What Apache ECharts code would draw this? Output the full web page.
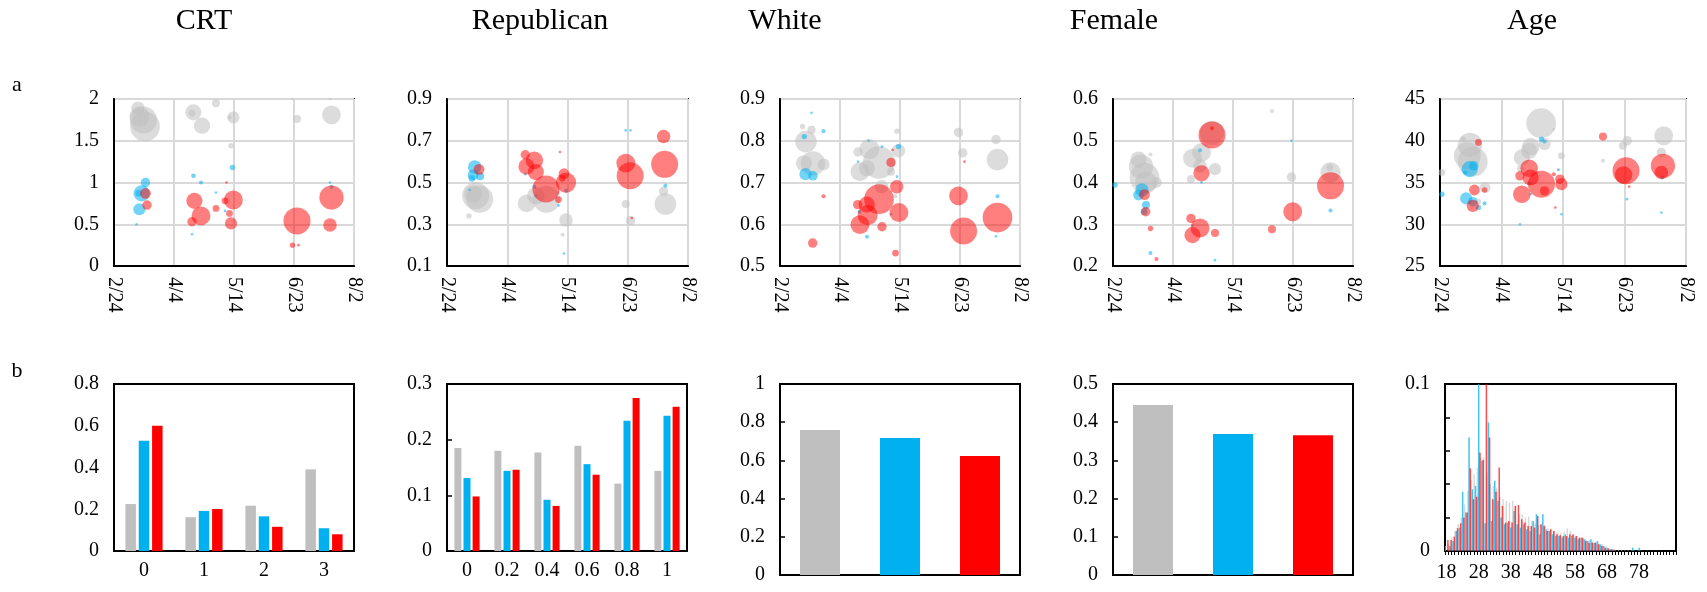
<!DOCTYPE html>
<html>
<head>
<meta charset="utf-8">
<script src="https://cdn.jsdelivr.net/npm/echarts@6/dist/echarts.min.js"></script>
<style>
html,body{margin:0;padding:0;background:#fff;}
#chart{width:1707px;height:592px;}
</style>
</head>
<body>
<div id="chart"></div>
<script>
// ---------- DATA ----------
const panelTitles = ['CRT', 'Republican', 'White', 'Female', 'Age'];
const rowLabels = ['a', 'b'];

// Scatter (bubble) data: [day since 2/24/2020, value, relative sample size]
const crtGray = [[16,1.89,10],[17,1.79,15],[19.6,1.75,20],[20.7,1.67,22],[52.9,1.84,12],[52,1.83,5],[58.7,1.68,12],[68,1.95,6],[79.6,1.78,9],[77,1.78,3],[78,1.44,4],[122,1.76,6],[145,1.81,14],[119,2.0,2],[144,2.0,2]];
const crtBlue = [[21,1.0,7],[18.4,0.87,12],[16.5,0.87,5],[16.9,0.68,9],[15,0.5,2],[53,1.08,3.5],[58,1.0,3],[52,0.38,2],[68,0.88,2],[79,1.18,4],[74,0.66,2],[144,1.0,2],[145,0.95,3]];
const crtRed = [[21,0.87,8],[22,0.73,7],[53.6,0.78,12],[58,0.6,14],[52,0.53,7],[68,0.69,5],[74,0.78,5],[75,1.0,2],[79.6,0.79,14],[77,0.63,5],[78,0.51,9],[122,0.54,20],[119,0.25,4],[123,0.25,2],[145,0.82,18],[144,0.49,10]];

const repGray = [[19,0.437,20],[21.7,0.42,20],[17.3,0.445,13],[14.6,0.34,4],[52.8,0.40,13],[59,0.437,13],[66,0.42,20],[79,0.32,10],[76.8,0.25,3],[74,0.45,3],[118.7,0.397,6],[121.8,0.317,7],[143.8,0.458,7],[145,0.397,16]];
const repBlue = [[18.4,0.574,10],[17.3,0.537,8],[16.5,0.52,5],[22,0.53,6],[15,0.465,2],[52,0.54,2],[58,0.48,3],[59,0.435,2],[79,0.46,3],[77.7,0.16,2],[74,0.39,2],[118.7,0.75,2],[121.8,0.75,2],[145,0.485,3]];
const repRed = [[21.3,0.563,8],[52,0.633,7],[58,0.606,13],[52.8,0.577,12],[59,0.55,12],[65.7,0.469,20],[74,0.418,5],[75,0.646,2],[77.7,0.542,8],[79,0.50,15],[76.5,0.52,5],[118.7,0.593,14],[121.6,0.532,20],[122.7,0.33,2],[143.8,0.72,10],[144.5,0.587,20]];

const whiteGray = [[17.3,0.798,16],[16,0.746,12],[22,0.746,18],[29,0.743,9],[21,0.826,6],[15,0.834,4],[59.6,0.78,15],[52,0.773,7],[53.3,0.726,14],[58,0.734,12],[66,0.748,24],[67.8,0.69,10],[74,0.726,6],[79,0.776,10],[78,0.823,4],[77,0.667,3],[119,0.82,7],[121.8,0.771,7],[144,0.803,7],[145,0.755,16]];
const whiteBlue = [[16.2,0.81,4],[17,0.72,9],[22,0.716,7],[21,0.867,2],[29,0.823,3],[59,0.80,2],[68,0.786,2],[52,0.75,2],[53,0.63,3],[58,0.57,3],[78,0.714,2],[79,0.786,4],[74,0.624,2],[145,0.667,3],[144,0.571,2]];
const whiteRed = [[21.8,0.555,7],[29,0.667,3],[51.8,0.647,7],[57.8,0.647,12],[53.3,0.599,14],[58.4,0.622,15],[66,0.66,22],[68,0.594,7],[74,0.748,7],[75,0.778,2],[77.8,0.69,10],[79.3,0.628,14],[77,0.531,5],[119,0.668,14],[122.4,0.584,20],[123,0.75,2],[145,0.616,22]];

const femaleGray = [[17,0.455,12],[18.7,0.438,18],[21,0.412,22],[22,0.40,16],[29,0.40,8],[25,0.467,3],[52,0.408,6],[53,0.458,14],[59,0.472,14],[58,0.44,10],[66,0.519,18],[68,0.432,9],[106,0.571,3],[119,0.413,7],[145,0.424,15],[144.5,0.436,5]];
const femaleBlue = [[1.3,0.394,4],[19.3,0.382,10],[17,0.37,8],[22,0.346,6],[20.7,0.33,5],[25,0.231,3],[58,0.477,3],[59,0.40,2],[53,0.297,2],[68,0.214,2],[145,0.333,3],[119,0.50,2]];
const femaleRed = [[21,0.371,8],[21.8,0.33,7],[25,0.29,4],[29,0.217,3],[52,0.314,7],[53,0.274,12],[58,0.291,14],[59,0.422,12],[66,0.514,20],[66,0.53,3],[68,0.279,6],[106,0.288,6],[119.8,0.33,14],[145,0.392,20]];

const ageGray = [[19.5,39.5,18],[17.8,38.2,20],[21.3,37.5,22],[15.2,40.2,4],[1.3,36.2,5],[29.3,34.4,8],[25,32.7,4],[65.8,42.1,22],[59,39.3,13],[58,38.8,12],[53.2,38.0,12],[52.3,36.7,5],[68,39.6,9],[79,38.2,5],[77,36.6,2],[74,41.4,2],[106,37.6,3],[121.8,40.0,7],[119,39.4,6],[145.5,40.6,14],[144,38.6,7]];
const ageBlue = [[1.3,33.6,4],[19.3,36.6,12],[22,37.0,7],[17,33.1,9],[21.3,32.7,7],[25,32.0,4],[29,32.5,3],[16.5,36.2,3],[66,40.2,4],[68,39.9,3],[58,34.9,3],[59,33.6,2],[52,30.0,2],[79,31.2,2],[77,36.5,2],[121.6,33.0,2],[144,31.4,2],[144.6,35.6,3]];
const ageRed = [[22.4,34.1,8],[21.3,32.2,9],[25,39.8,5],[29,34.1,4],[52,35.8,7],[53.2,33.6,13],[58,36.7,13],[59,35.6,12],[66,34.8,20],[68,34.0,7],[74,36.0,3],[78,35.4,7],[79,34.8,9],[75,32.0,2],[106,40.5,6],[119.4,35.9,13],[121,36.4,20],[123,34.5,2],[145,37.0,18],[144,36.2,10]];

// Scatter axis ranges: [min, max, interval]
const scatterYAxes = [[0,2,0.5],[0.1,0.9,0.2],[0.5,0.9,0.1],[0.2,0.6,0.1],[25,45,5]];
const dayTicks = [0, 160, 40]; // 2/24 ... 8/2 every 40 days

// Bar data
const crtCats = ['0','1','2','3'];
const crtBarGray = [0.225,0.162,0.217,0.391];
const crtBarBlue = [0.528,0.192,0.166,0.109];
const crtBarRed  = [0.600,0.201,0.116,0.080];

const repCats = ['0','0.2','0.4','0.6','0.8','1'];
const repBarGray = [0.185,0.180,0.177,0.189,0.121,0.144];
const repBarBlue = [0.131,0.144,0.092,0.156,0.234,0.243];
const repBarRed  = [0.098,0.146,0.081,0.137,0.275,0.259];

const whiteBar  = [0.759,0.717,0.623];
const femaleBar = [0.445,0.369,0.366];

const ageCats = [];
for (let a = 18; a <= 89; a++) ageCats.push(String(a));
const ageHistGray = [0.003,0.004,0.008,0.012,0.016,0.020,0.028,0.036,0.0425,0.046,0.050,0.056,0.056,0.047,0.040,0.039,0.038,0.0325,0.031,0.030,0.029,0.030,0.0265,0.022,0.022,0.020,0.0205,0.018,0.0165,0.0155,0.016,0.0155,0.0135,0.0135,0.012,0.011,0.011,0.0115,0.0135,0.012,0.0096,0.009,0.0076,0.0072,0.0066,0.0066,0.0056,0.005,0.0045,0.004,0.0028,0.0016,0.0012,0.001,0.0008,0.0006,0.0005,0.0005,0.0004,0.0004,0.0003,0.0003,0.0002,0.0002,0.0002,0.0001,0.0001,0.0001,0,0,0,0];
const ageHistBlue = [0,0.003,0.006,0.012,0.014,0.0355,0.023,0.068,0.037,0.039,0.115,0.054,0.0166,0.077,0.018,0.042,0.030,0.020,0.016,0.017,0.014,0.024,0.016,0.014,0.016,0.013,0.012,0.018,0.022,0.010,0.022,0.013,0.012,0.010,0.009,0.009,0.008,0.010,0.008,0.009,0.008,0.007,0.008,0.007,0.006,0.007,0.005,0.006,0.004,0.003,0.002,0.001,0.001,0,0,0,0,0,0.002,0,0.002,0,0,0,0,0,0,0,0,0,0,0];
const ageHistRed = [0.0066,0.0066,0.0086,0.0136,0.0166,0.020,0.023,0.0495,0.031,0.0325,0.059,0.0545,0.105,0.068,0.031,0.0355,0.050,0.027,0.017,0.018,0.017,0.027,0.0275,0.019,0.017,0.015,0.015,0.014,0.021,0.016,0.015,0.012,0.013,0.012,0.010,0.0095,0.009,0.009,0.010,0.010,0.009,0.008,0.008,0.006,0.005,0.005,0.005,0.004,0.003,0.002,0.0015,0.001,0.0005,0,0,0,0,0,0,0,0,0,0,0,0,0,0,0,0,0,0,0];

// ---------- STYLE / LAYOUT ----------
const GRAY = '#bfbfbf', BLUE = '#00b0f0', RED = '#ff0000';
const FONT = '"Liberation Serif", "Times New Roman", serif';
const SIZE_SCALE = 1.35;
const scatterLefts = [114,447,780,1113,1440];
const scatterWidths = [240,241,240,240,246];
const scatterTop = 99, scatterHeight = 167;
const barLefts = [114,447,780,1113,1445];
const barWidths = [240,240,240,240,231];
const barTop = 384;
const barHeights = [167,167,191,191,167];
const titleX = [204,540,785,1114,1532];

const BASE = Date.UTC(2020,1,24);
function fmtDay(d){
  const t = new Date(BASE + d*864e5);
  return (t.getUTCMonth()+1) + '/' + t.getUTCDate();
}
function fmtNum(v){ return String(Math.round(v*1000)/1000); }

const grids = [], xAxes = [], yAxes = [], series = [];
const labelStyle = {color:'#000', fontFamily:FONT, fontSize:20};

const scatterSets = [
  [crtGray, crtBlue, crtRed],
  [repGray, repBlue, repRed],
  [whiteGray, whiteBlue, whiteRed],
  [femaleGray, femaleBlue, femaleRed],
  [ageGray, ageBlue, ageRed]
];
const splitStyle = {show:true, lineStyle:{color:'#d9d9d9', width:2}};
scatterSets.forEach((sets, i) => {
  const gi = grids.length;
  grids.push({left:scatterLefts[i], top:scatterTop, width:scatterWidths[i], height:scatterHeight,
    show:true, borderColor:'#000', borderWidth:2, backgroundColor:'transparent', containLabel:false});
  xAxes.push({gridIndex:gi, type:'value', min:dayTicks[0], max:dayTicks[1], interval:dayTicks[2],
    axisLine:{show:true, lineStyle:{color:'#000', width:2}}, axisTick:{show:false},
    splitLine:splitStyle,
    axisLabel:Object.assign({rotate:-90, margin:11, formatter:fmtDay, showMinLabel:true, showMaxLabel:true}, labelStyle)});
  const ya = scatterYAxes[i];
  yAxes.push({gridIndex:gi, type:'value', min:ya[0], max:ya[1], interval:ya[2],
    axisLine:{show:true, lineStyle:{color:'#000', width:2}}, axisTick:{show:false},
    splitLine:splitStyle,
    axisLabel:Object.assign({margin:15, formatter:fmtNum}, labelStyle)});
  const cols = [GRAY, BLUE, RED];
  const ops = [0.55, 0.55, 0.5];
  sets.forEach((data, k) => {
    series.push({type:'scatter', xAxisIndex:gi, yAxisIndex:gi, data:data,
      symbolSize: v => v[2]*SIZE_SCALE,
      itemStyle:{color:cols[k], opacity:ops[k]}, z:2+k, silent:true, animation:false});
  });
});

// Bar panels
function barGrid(i){
  const gi = grids.length;
  grids.push({left:barLefts[i], top:barTop, width:barWidths[i], height:barHeights[i],
    show:true, borderColor:'#000', borderWidth:2, backgroundColor:'transparent'});
  return gi;
}
function yBar(gi, min, max, interval, ticks, fmt){
  yAxes.push({gridIndex:gi, type:'value', min:min, max:max, interval:interval,
    axisLine:{show:true, lineStyle:{color:'#000', width:2}},
    axisTick:{show:ticks, inside:true, length:5, lineStyle:{color:'#000', width:1.5}},
    splitLine:{show:false},
    axisLabel:Object.assign({margin:15, formatter:fmt || fmtNum}, labelStyle)});
}
function xBar(gi, cats, showLabel, extra){
  xAxes.push(Object.assign({gridIndex:gi, type:'category', data:cats,
    axisLine:{show:true, lineStyle:{color:'#000', width:2}}, axisTick:{show:false},
    axisLabel:Object.assign({show:showLabel, margin:10, interval:0}, labelStyle)}, extra||{}));
}
// CRT bars
{
  const gi = barGrid(0);
  xBar(gi, crtCats, true);
  yBar(gi, 0, 0.8, 0.2, false);
  [[crtBarGray,GRAY],[crtBarBlue,BLUE],[crtBarRed,RED]].forEach(([d,c]) => {
    series.push({type:'bar', xAxisIndex:gi, yAxisIndex:gi, data:d, barWidth:10.5, barGap:'27%',
      itemStyle:{color:c}, animation:false, silent:true});
  });
}
// Republican bars
{
  const gi = barGrid(1);
  xBar(gi, repCats, true);
  yBar(gi, 0, 0.3, 0.1, true);
  [[repBarGray,GRAY],[repBarBlue,BLUE],[repBarRed,RED]].forEach(([d,c]) => {
    series.push({type:'bar', xAxisIndex:gi, yAxisIndex:gi, data:d, barWidth:7, barGap:'30%',
      itemStyle:{color:c}, animation:false, silent:true});
  });
}
// White & Female bars
[[2, whiteBar, 1, 0.2], [3, femaleBar, 0.5, 0.1]].forEach(([i, vals, mx, iv]) => {
  const gi = barGrid(i);
  xBar(gi, ['','',''], false);
  yBar(gi, 0, mx, iv, true);
  const cols = [GRAY, BLUE, RED];
  series.push({type:'bar', xAxisIndex:gi, yAxisIndex:gi, barWidth:40,
    data: vals.map((v,k) => ({value:v, itemStyle:{color:cols[k]}})),
    animation:false, silent:true});
});
// Age histogram
{
  const gi = barGrid(4);
  xBar(gi, ageCats, true, {
    axisTick:{show:true, interval:0, length:4, alignWithLabel:false, lineStyle:{color:'#000', width:1}},
    axisLabel:Object.assign({show:true, margin:12, interval:9, formatter: v => (+v <= 78 ? v : '')}, labelStyle)
  });
  yBar(gi, 0, 0.1, 0.02, true, v => (v === 0 ? '0' : (Math.abs(v-0.1) < 1e-9 ? '0.1' : '')));
  [[ageHistGray,GRAY,0.6],[ageHistBlue,BLUE,0.75],[ageHistRed,RED,0.7]].forEach(([d,c,o]) => {
    series.push({type:'bar', xAxisIndex:gi, yAxisIndex:gi, data:d, barWidth:1.5, barGap:'-15%',
      itemStyle:{color:c, opacity:o}, clip:true, animation:false, silent:true});
  });
}

const graphics = [];
panelTitles.forEach((t,i) => {
  graphics.push({type:'text', x:titleX[i], y:21, style:{text:t, fill:'#000', font:'30px ' + FONT,
    textAlign:'center', textVerticalAlign:'middle'}});
});
graphics.push({type:'text', x:17, y:85, style:{text:rowLabels[0], fill:'#000', font:'22px ' + FONT, textAlign:'center', textVerticalAlign:'middle'}});
graphics.push({type:'text', x:17, y:371, style:{text:rowLabels[1], fill:'#000', font:'22px ' + FONT, textAlign:'center', textVerticalAlign:'middle'}});

const chart = echarts.init(document.getElementById('chart'), null, {renderer:'canvas'});
chart.setOption({
  animation:false,
  backgroundColor:'#fff',
  grid:grids, xAxis:xAxes, yAxis:yAxes, series:series, graphic:graphics
});
</script>
</body>
</html>
